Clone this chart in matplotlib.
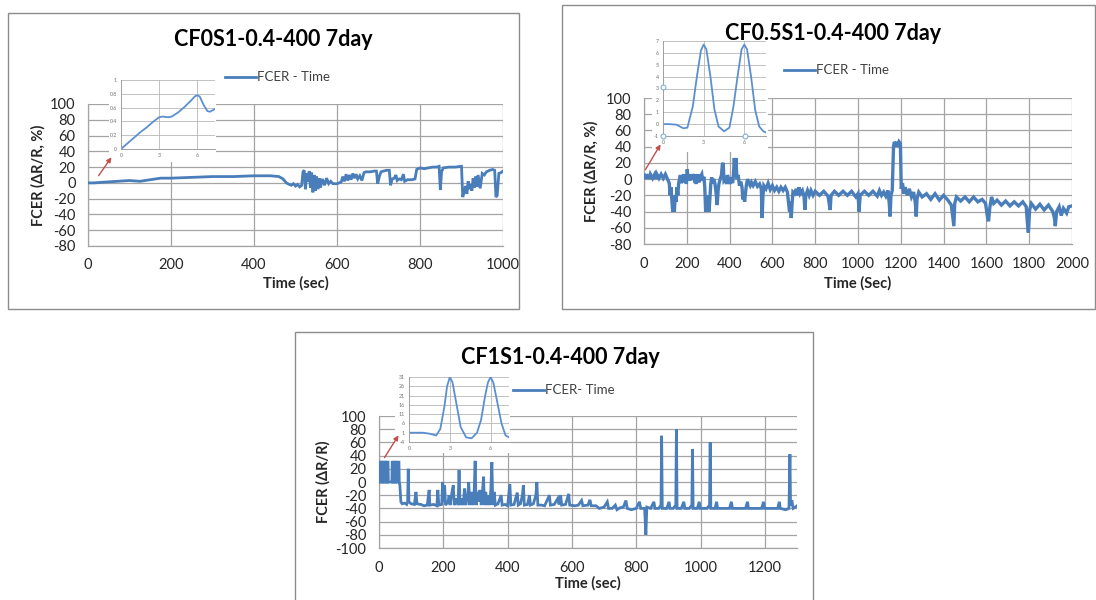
import numpy as np
import matplotlib
matplotlib.use("Agg")
from matplotlib import pyplot as plt
from matplotlib.patches import Rectangle, FancyArrowPatch
from matplotlib.lines import Line2D

plt.rcParams['font.family'] = ['Lato', 'DejaVu Sans']
plt.rcParams['axes.unicode_minus'] = False

W, H = 1096, 600

# ---- data ----
titles = ["CF0S1-0.4-400 7day", "CF0.5S1-0.4-400 7day", "CF1S1-0.4-400 7day"]
xlabels = ["Time (sec)", "Time (Sec)", "Time (sec)"]
ylabels = ["FCER (\u0394R/R, %)", "FCER (\u0394R/R, %)", "FCER (\u0394R/R)"]
legend_labels = ["FCER - Time", "FCER - Time", "FCER- Time"]

cf0 = [(0, 0), (15, 0), (40, 1), (70, 2), (100, 3), (125, 2), (150, 4), (175, 6), (200, 6),
       (250, 7), (300, 8), (350, 8), (400, 9), (440, 9), (460, 8), (470, 5), (478, 0), (485, -2),
       (490, -3), (495, -1), (500, -4), (505, -2), (510, -5), (515, -3), (518, 14), (521, 16),
       (524, -8), (527, 12), (530, 2), (533, 15), (536, -6), (539, 13), (542, -12), (545, 10),
       (548, -10), (551, 8), (554, -8), (557, 6), (560, -6), (565, 5), (570, -3), (575, 6),
       (580, -1), (585, 2), (590, -1), (600, -1), (610, 1), (614, 8), (618, 2), (622, 11),
       (626, 3), (630, 10), (634, 4), (638, 12), (642, 6), (646, 11), (650, 5), (655, 9),
       (660, 3), (665, 13), (670, 14), (680, 14), (690, 15), (695, 15), (698, -1), (702, 8),
       (706, 14), (712, 15), (720, 16), (726, 16), (729, -3), (733, 5), (738, 6), (742, 10),
       (745, 3), (750, 5), (755, 4), (760, 11), (763, 2), (770, 4), (780, 4), (788, 5),
       (792, 17), (800, 19), (810, 18), (820, 19), (830, 20), (840, 20), (846, 21), (849, -9),
       (852, 14), (856, 19), (870, 20), (885, 20), (900, 21), (903, -18), (906, -12), (910, -4),
       (913, -14), (916, 2), (919, -8), (922, -2), (925, -10), (928, 6), (931, -6), (934, 8),
       (937, -5), (940, 10), (945, -7), (950, 12), (955, 10), (960, 14), (968, 16), (975, 17),
       (980, 16), (983, -18), (986, -16), (990, 12), (995, 13), (1000, 15)]

cf05 = [(0, 5), (5, 0), (10, 6), (15, 1), (20, 6), (25, 0), (30, 6), (40, 1), (50, 6), (55, 0),
        (60, 6), (70, 1), (80, 6), (90, 1), (100, 6), (110, 0), (118, -5), (122, -20), (126, -10),
        (130, -25), (134, -40), (138, -30), (142, -40), (146, -20), (150, -28), (154, -10),
        (158, -20), (162, -5), (166, 0), (170, 5), (174, -5), (180, 0), (185, 6), (190, -4),
        (195, 3), (198, -6), (202, 12), (206, 0), (210, 6), (214, -2), (218, 5), (222, 0),
        (226, 6), (232, 1), (238, 6), (244, -6), (248, 2), (252, 6), (256, -4), (262, 2),
        (270, 6), (274, -2), (280, 3), (284, -10), (288, -40), (292, -20), (296, -40), (300, -30),
        (304, -40), (308, -22), (312, -6), (316, 2), (320, -5), (326, 0), (332, -6), (338, -20),
        (342, -32), (346, -15), (350, -6), (356, 0), (362, 5), (366, 18), (370, 20), (374, -2),
        (380, 0), (386, -6), (390, 5), (396, 0), (402, -6), (408, 2), (414, -5), (418, 5),
        (422, 26), (426, 10), (430, 26), (434, 0), (440, 5), (446, -8), (452, -3), (458, -10),
        (462, -25), (466, -15), (470, -28), (474, -18), (478, -8), (484, 0), (490, -5), (496, -8),
        (502, -4), (510, -8), (520, -3), (530, -9), (540, -6), (548, -12), (552, -48), (556, -20),
        (560, -8), (570, -12), (580, -5), (590, -13), (600, -8), (610, -14), (620, -10),
        (630, -15), (640, -10), (650, -14), (660, -10), (670, -16), (676, -30), (680, -40),
        (684, -28), (688, -48), (692, -30), (696, -16), (704, -18), (712, -12), (718, -20),
        (724, -10), (730, -18), (740, -14), (748, -22), (752, -38), (756, -20), (764, -14),
        (772, -20), (780, -14), (790, -20), (800, -15), (820, -20), (840, -15), (860, -21),
        (870, -38), (874, -20), (890, -15), (910, -20), (930, -15), (950, -20), (970, -15),
        (990, -22), (1000, -18), (1005, -40), (1010, -20), (1030, -15), (1050, -20), (1070, -15),
        (1090, -21), (1100, -14), (1110, -20), (1120, -16), (1130, -21), (1140, -14), (1146, -30),
        (1150, -46), (1154, -20), (1160, -14), (1166, 40), (1170, 46), (1175, 40), (1180, 46),
        (1186, 40), (1192, 46), (1198, 44), (1202, -12), (1208, -5), (1214, -18), (1220, -10),
        (1230, -20), (1240, -12), (1250, -22), (1260, -16), (1268, -30), (1272, -46), (1276, -24),
        (1284, -16), (1300, -22), (1320, -18), (1340, -25), (1360, -18), (1380, -26), (1400, -20),
        (1420, -26), (1436, -32), (1442, -45), (1448, -58), (1452, -30), (1460, -22), (1480, -27),
        (1500, -22), (1520, -28), (1540, -22), (1560, -28), (1580, -25), (1596, -30), (1604, -45),
        (1610, -52), (1616, -35), (1624, -22), (1634, -30), (1650, -26), (1670, -32), (1690, -27),
        (1710, -33), (1730, -28), (1750, -33), (1770, -28), (1786, -34), (1792, -55), (1796, -66),
        (1802, -38), (1810, -30), (1830, -37), (1850, -31), (1870, -38), (1890, -32), (1910, -40),
        (1918, -48), (1922, -58), (1928, -40), (1940, -34), (1950, -45), (1960, -36), (1975, -42),
        (1985, -34), (2000, -33)]

cf1 = [(0, 0), (2, 30), (4, 30), (5, 0), (7, 0), (8, 30), (10, 30), (11, 0), (13, 0), (14, 30),
       (16, 30), (17, 0), (19, 0), (20, 30), (22, 30), (23, 0), (25, 0), (26, 30), (28, 30),
       (29, 0), (40, 0), (41, 30), (43, 30), (44, 0), (46, 0), (47, 30), (49, 30), (50, 0),
       (52, 0), (53, 30), (55, 30), (56, 0), (58, 0), (59, 30), (62, 30), (63, 0), (65, -5),
       (68, -30), (72, -33), (80, -32), (86, -34), (89, -30), (91, 20), (93, -30), (100, -33),
       (110, -34), (115, -15), (118, -33), (130, -34), (140, -36), (150, -35), (154, -20),
       (156, -12), (158, -35), (170, -34), (180, -36), (183, -12), (186, -35), (195, -34),
       (198, 0), (201, -30), (204, -5), (207, -35), (215, -30), (218, -20), (221, -35),
       (228, -12), (231, -5), (234, -35), (240, -25), (246, -35), (249, 18), (252, -35),
       (258, -25), (262, -35), (266, -10), (270, -35), (276, -20), (279, 0), (282, -35),
       (288, -15), (292, -35), (296, -15), (299, 32), (302, -35), (306, -15), (310, -30),
       (314, -12), (318, -35), (322, -15), (325, 8), (328, -35), (332, -15), (336, -35),
       (340, -20), (344, -35), (348, -10), (351, 30), (354, -35), (358, -15), (362, -35),
       (370, -33), (380, -20), (383, -35), (392, -34), (400, -36), (404, -18), (407, -3),
       (410, -35), (420, -34), (430, -16), (433, -35), (440, -33), (446, -20), (449, -5),
       (452, -35), (462, -34), (468, -20), (471, -35), (480, -33), (488, -20), (491, 0),
       (494, -35), (505, -35), (515, -36), (530, -20), (533, -35), (545, -34), (556, -25),
       (560, -34), (565, -20), (568, -35), (580, -34), (590, -18), (593, -35), (610, -36),
       (620, -35), (630, -28), (634, -36), (650, -35), (656, -27), (660, -36), (675, -36),
       (685, -40), (700, -38), (710, -30), (714, -40), (725, -40), (735, -35), (740, -42),
       (750, -39), (760, -38), (768, -28), (772, -40), (785, -42), (800, -40), (810, -30),
       (814, -40), (826, -40), (830, -80), (833, -38), (845, -40), (855, -30), (858, -40),
       (870, -40), (877, -35), (879, 70), (881, -40), (895, -40), (902, -30), (905, -40),
       (915, -40), (923, -35), (925, 80), (927, -40), (940, -40), (948, -30), (951, -40),
       (965, -40), (973, -35), (975, 50), (977, -40), (990, -40), (996, -30), (999, -40),
       (1020, -40), (1028, -35), (1030, 60), (1032, -40), (1045, -40), (1050, -30), (1053, -40),
       (1075, -40), (1090, -40), (1096, -30), (1099, -40), (1120, -40), (1140, -40), (1146, -30),
       (1149, -40), (1170, -40), (1190, -40), (1196, -30), (1199, -40), (1220, -40), (1240, -40),
       (1245, -30), (1248, -40), (1265, -42), (1275, -40), (1278, 42), (1280, -36), (1284, -28),
       (1288, -40), (1295, -38), (1300, -36)]

# zoomed-in cycles shown in the small insets
ins0 = [(0, 0), (0.5, 0.08), (1, 0.16), (1.5, 0.24), (2, 0.31), (2.5, 0.39), (3, 0.46),
        (3.3, 0.47), (3.7, 0.46), (4, 0.47), (4.5, 0.53), (5, 0.61), (5.5, 0.70), (5.8, 0.76),
        (6, 0.78), (6.2, 0.76), (6.5, 0.64), (6.8, 0.55), (7.0, 0.54), (7.4, 0.58)]
ins05 = [(0, 0), (0.5, 0), (1, -0.05), (1.5, -0.35), (1.8, -0.3), (2.2, 1.5), (2.5, 4),
         (2.8, 6.2), (3, 6.7), (3.2, 6.3), (3.5, 4), (3.8, 1.2), (4.1, -0.2), (4.5, -0.6),
         (4.9, -0.3), (5.2, 1.5), (5.5, 4), (5.8, 6.3), (6, 6.7), (6.2, 6.3), (6.5, 4),
         (6.8, 1.2), (7.1, -0.2), (7.4, -0.6), (7.6, -0.7)]
ins1 = [(0, 1), (1, 1), (1.5, 0.5), (2, -0.5), (2.3, 3), (2.6, 15), (2.8, 26), (3, 31),
        (3.2, 28), (3.5, 16), (3.8, 4), (4.2, -1.5), (4.6, -2), (5, 1), (5.3, 8), (5.6, 21),
        (5.8, 28), (6, 31), (6.2, 28), (6.5, 17), (6.8, 6), (7.1, -0.5), (7.35, -1.5)]

# ---- helpers (pixel boxes -> figure fractions) ----
def box(x0, y0, x1, y1):
    return [x0 / W, 1 - y1 / H, (x1 - x0) / W, (y1 - y0) / H]

def fx(x):
    return x / W

def fy(y):
    return 1 - y / H

blue = '#4a7ebb'
grid_c = '#a4a4a4'
txt_c = '#262626'

fig = plt.figure(figsize=(W / 100, H / 100), dpi=100)

# panel frames
for (x0, y0, x1, y1) in [(8, 13, 519, 309), (562, 5, 1095, 309), (295, 332, 813, 606)]:
    fig.add_artist(Rectangle((fx(x0), fy(y1)), fx(x1 - x0), (y1 - y0) / H,
                             transform=fig.transFigure, fill=False, ec='#8c8c8c', lw=1.0))

main_specs = [
    (cf0, box(88, 104, 503, 246), (0, 1000), np.arange(0, 1001, 200), (-80, 100), 2.0),
    (cf05, box(644, 98, 1072, 244), (0, 2000), np.arange(0, 2001, 200), (-80, 100), 2.4),
    (cf1, box(379, 416, 797, 548), (0, 1300), np.arange(0, 1201, 200), (-100, 100), 2.0),
]

for data, rect, xl, xt, yl, lw in main_specs:
    ax = fig.add_axes(rect)
    t, v = np.array(data).T
    ax.plot(t, v, color=blue, lw=lw, solid_joinstyle='miter', zorder=3)
    ax.set_xlim(*xl)
    ax.set_ylim(*yl)
    ax.set_xticks(xt)
    ax.set_yticks(np.arange(yl[0], yl[1] + 1, 20))
    ax.grid(True, color=grid_c, lw=0.9)
    ax.set_axisbelow(True)
    for s in ['top', 'right']:
        ax.spines[s].set_visible(False)
    for s in ['left', 'bottom']:
        ax.spines[s].set_color(grid_c)
        ax.spines[s].set_linewidth(0.9)
    ax.tick_params(length=0, labelsize=10.5, colors=txt_c, pad=9)

# inset "pictures": white cover box + small chart
inset_specs = [
    (ins0, (109, 75, 216, 162), box(121, 80, 215, 149), (0, 7.4), (0, 1),
     np.arange(0, 1.01, 0.2), ['0', '0.2', '0.4', '0.6', '0.8', '1']),
    (ins05, (652, 40, 768, 152), box(663, 41, 766, 136), (0, 7.6), (-1, 7),
     np.arange(-1, 8, 1), [str(i) for i in range(-1, 8)]),
    (ins1, (395, 370, 510, 453), box(409, 377, 509, 442), (0, 7.35), (-4, 31),
     np.arange(-4, 32, 5), [str(i) for i in range(-4, 32, 5)]),
]

for data, cover, rect, xl, yl, yt, ytl in inset_specs:
    cax = fig.add_axes(box(*cover))
    cax.set_facecolor('white')
    cax.set_xticks([])
    cax.set_yticks([])
    for s in cax.spines.values():
        s.set_visible(False)
    iax = fig.add_axes(rect)
    iax.set_facecolor('white')
    x, y = np.array(data).T
    iax.plot(x, y, color='#5b8fd0', lw=1.3)
    iax.set_xlim(*xl)
    iax.set_ylim(*yl)
    iax.set_xticks([0, 3, 6])
    iax.set_yticks(yt)
    iax.set_yticklabels(ytl)
    iax.grid(True, color='#b8b8b8', lw=0.6)
    iax.set_axisbelow(True)
    for s in ['top', 'right']:
        iax.spines[s].set_visible(False)
    for s in ['left', 'bottom']:
        iax.spines[s].set_color('#a0a0a0')
        iax.spines[s].set_linewidth(0.7)
    iax.tick_params(length=0, labelsize=3.8, colors='#707070', pad=3)

# selection handles seen around the second inset
for (hx, hy) in [(663, 87), (663, 136), (745, 136)]:
    fig.add_artist(Line2D([fx(hx)], [fy(hy)], transform=fig.transFigure, marker='o',
                          ms=3.5, mfc='white', mec='#7fb0d8', mew=0.8, ls='none'))

# red arrows pointing from the trace start to the inset
for (ax0, ay0, ax1_, ay1) in [(97, 178, 113, 155), (644, 172, 662, 142), (383, 460, 400, 433)]:
    fig.add_artist(FancyArrowPatch((fx(ax0), fy(ay0)), (fx(ax1_), fy(ay1)),
                                   transform=fig.transFigure, arrowstyle='-|>',
                                   mutation_scale=7, color='#c0504d', lw=1.0))

# titles, axis labels, legends
title_pos = [(273, 40), (833, 33), (560, 357)]
xlab_pos = [(296, 283), (858, 283), (588, 583)]
ylab_pos = [(38, 175), (591, 171), (323, 482)]
leg_pos = [(225, 256, 77), (784, 815, 70), (513, 544, 390)]

for i in range(3):
    fig.text(fx(title_pos[i][0]), fy(title_pos[i][1]), titles[i], ha='center', va='center',
             fontsize=15.5, fontweight='bold', color='black')
    fig.text(fx(xlab_pos[i][0]), fy(xlab_pos[i][1]), xlabels[i], ha='center', va='center',
             fontsize=10.5, fontweight='bold', color=txt_c)
    fig.text(fx(ylab_pos[i][0]), fy(ylab_pos[i][1]), ylabels[i], ha='center', va='center',
             rotation=90, fontsize=10.5, fontweight='bold', color=txt_c)
    lx0, lx1, ly = leg_pos[i]
    fig.add_artist(Line2D([fx(lx0), fx(lx1)], [fy(ly), fy(ly)], transform=fig.transFigure,
                          color=blue, lw=2.0))
    fig.text(fx(lx1 + 1), fy(ly), legend_labels[i], ha='left', va='center',
             fontsize=9.5, color='#404040')

fig.savefig('out.png', dpi=100, facecolor='white')
